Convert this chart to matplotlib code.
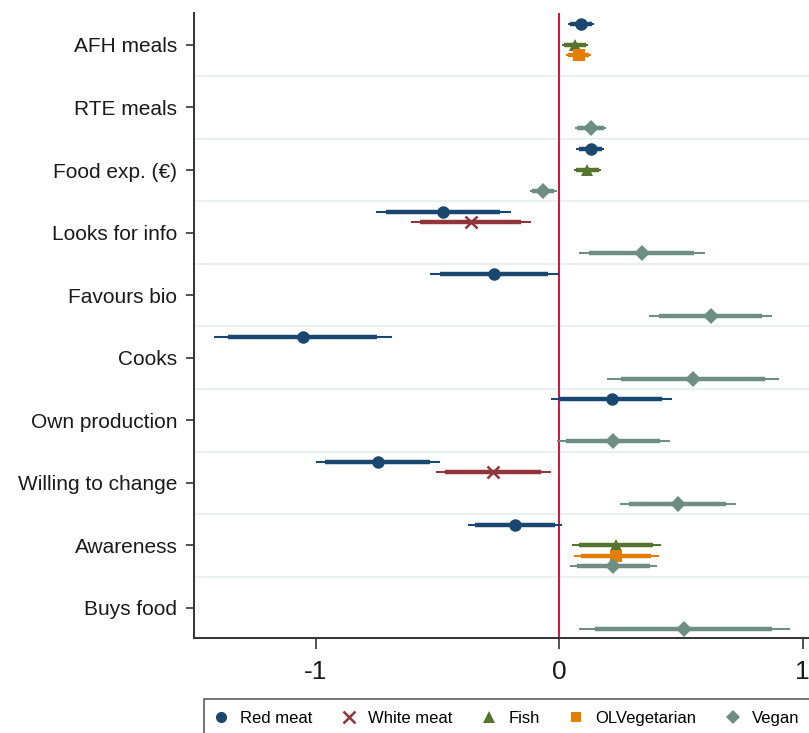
import numpy as np
import matplotlib
matplotlib.use('Agg')
import matplotlib.pyplot as plt
from matplotlib.lines import Line2D

plt.rcParams['font.family'] = ['Liberation Sans', 'DejaVu Sans']

nan = np.nan

# ── data ──────────────────────────────────────────────────────────────────────
categories = ['AFH meals', 'RTE meals', 'Food exp. (€)', 'Looks for info', 'Favours bio',
              'Cooks', 'Own production', 'Willing to change', 'Awareness', 'Buys food']

red_coef = [0.089, nan, 0.129, -0.476, -0.266, -1.052, 0.215, -0.745, -0.181, nan]
red_lo95 = [0.035, nan, 0.069, -0.753, -0.532, -1.419, -0.035, -1.000, -0.374, nan]
red_hi95 = [0.144, nan, 0.185, -0.198, 0.000, -0.685, 0.463, -0.489, 0.013, nan]
red_lo90 = [0.045, nan, 0.080, -0.710, -0.489, -1.360, 0.000, -0.960, -0.344, nan]
red_hi90 = [0.134, nan, 0.176, -0.245, -0.044, -0.747, 0.424, -0.532, -0.016, nan]

white_coef = [nan, nan, nan, -0.363, nan, nan, nan, -0.271, nan, nan]
white_lo95 = [nan, nan, nan, -0.610, nan, nan, nan, -0.505, nan, nan]
white_hi95 = [nan, nan, nan, -0.116, nan, nan, nan, -0.035, nan, nan]
white_lo90 = [nan, nan, nan, -0.573, nan, nan, nan, -0.468, nan, nan]
white_hi90 = [nan, nan, nan, -0.156, nan, nan, nan, -0.076, nan, nan]

fish_coef = [0.065, nan, 0.116, nan, nan, nan, nan, nan, 0.234, nan]
fish_lo95 = [0.011, nan, 0.061, nan, nan, nan, nan, nan, 0.052, nan]
fish_hi95 = [0.118, nan, 0.171, nan, nan, nan, nan, nan, 0.419, nan]
fish_lo90 = [0.020, nan, 0.070, nan, nan, nan, nan, nan, 0.081, nan]
fish_hi90 = [0.110, nan, 0.162, nan, nan, nan, nan, nan, 0.387, nan]

olveg_coef = [0.081, nan, nan, nan, nan, nan, nan, nan, 0.234, nan]
olveg_lo95 = [0.029, nan, nan, nan, nan, nan, nan, nan, 0.061, nan]
olveg_hi95 = [0.132, nan, nan, nan, nan, nan, nan, nan, 0.411, nan]
olveg_lo90 = [0.038, nan, nan, nan, nan, nan, nan, nan, 0.089, nan]
olveg_hi90 = [0.124, nan, nan, nan, nan, nan, nan, nan, 0.379, nan]

vegan_coef = [nan, 0.129, -0.068, 0.339, 0.624, 0.548, 0.223, 0.489, 0.223, 0.513]
vegan_lo95 = [nan, 0.065, -0.121, 0.081, 0.368, 0.198, -0.008, 0.250, 0.044, 0.081]
vegan_hi95 = [nan, 0.194, -0.011, 0.597, 0.876, 0.903, 0.455, 0.726, 0.403, 0.947]
vegan_lo90 = [nan, 0.075, -0.112, 0.121, 0.408, 0.253, 0.027, 0.287, 0.073, 0.145]
vegan_hi90 = [nan, 0.184, -0.020, 0.553, 0.835, 0.844, 0.416, 0.685, 0.374, 0.876]

series = [
    ('Red meat', '#1a476f', 'o', 9, red_coef, red_lo95, red_hi95, red_lo90, red_hi90),
    ('White meat', '#90353b', 'x', 9, white_coef, white_lo95, white_hi95, white_lo90, white_hi90),
    ('Fish', '#55752f', '^', 9, fish_coef, fish_lo95, fish_hi95, fish_lo90, fish_hi90),
    ('OLVegetarian', '#e37e00', 's', 8, olveg_coef, olveg_lo95, olveg_hi95, olveg_lo90, olveg_hi90),
    ('Vegan', '#6e8e84', 'D', 8, vegan_coef, vegan_lo95, vegan_hi95, vegan_lo90, vegan_hi90),
]

# ── figure ────────────────────────────────────────────────────────────────────
W, H = 809, 733
fig = plt.figure(figsize=(W / 100, H / 100), dpi=100)
ax = fig.add_axes([194 / W, 1 - 638 / H, 1 - 194 / W, (638 - 13) / H])

ypos = np.arange(len(categories))

# grid lines between categories
for g in ypos[:-1] + 0.5:
    ax.axhline(g, color='#e6eff1', lw=1.3, zorder=0)

ax.axvline(0, color='#d4103f', lw=1.4, zorder=1)

handles = []
for k, (name, col, mk, ms, coef, lo95, hi95, lo90, hi90) in enumerate(series):
    off = (k - 2) / 6.0
    y = ypos + off
    coef = np.array(coef); lo95 = np.array(lo95); hi95 = np.array(hi95)
    lo90 = np.array(lo90); hi90 = np.array(hi90)
    ok = ~np.isnan(coef)
    ax.hlines(y[ok], lo95[ok], hi95[ok], color=col, lw=1.5, zorder=2)
    ax.hlines(y[ok], lo90[ok], hi90[ok], color=col, lw=3.2, zorder=3)
    mew = 1.8 if mk == 'x' else 0
    ax.plot(coef[ok], y[ok], ls='none', marker=mk, ms=ms, color=col, mec=col, mew=mew, zorder=4)
    handles.append(Line2D([], [], ls='none', marker=mk, ms=ms - 1, color=col, mec=col, mew=mew))

ax.set_ylim(len(categories) - 1 + 0.48, -0.51)
ax.set_xlim(-1.5, 1.026)
ax.set_yticks(ypos)
ax.set_yticklabels(categories, fontsize=15, color='#1a1a1a')
ax.set_xticks([-1, 0, 1])
ax.set_xticklabels(['-1', '0', '1'], fontsize=19, color='#1a1a1a')
ax.tick_params(axis='y', length=6, width=1.2, pad=6, color='#333333')
ax.tick_params(axis='x', length=8, width=1.2, pad=8, color='#333333')

for s in ['top', 'right']:
    ax.spines[s].set_visible(False)
for s in ['left', 'bottom']:
    ax.spines[s].set_color('#333333')
    ax.spines[s].set_linewidth(1.4)

leg = fig.legend(handles, [s[0] for s in series], loc='upper left',
                 bbox_to_anchor=(204 / W, 1 - 699 / H), borderaxespad=0, ncol=5, fontsize=12,
                 frameon=True, fancybox=False, edgecolor='#333333',
                 handlelength=0.6, handletextpad=0.85, columnspacing=1.9,
                 borderpad=0.7)
leg.get_frame().set_linewidth(1.2)

plt.savefig('out.png', dpi=100)
plt.close()
